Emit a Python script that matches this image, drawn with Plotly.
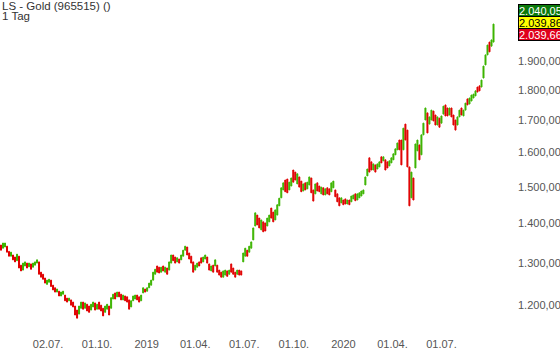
import plotly.graph_objects as go
import pandas as pd

opens = [
    1344,1336,1339,1341,1328,1316,1319,1314,1305,1316, 1294,1282,1292,1299,1290,1297,1289,1294,1299,1302,
    1277,1272,1263,1248,1253,1258,1246,1240,1230,1232, 1221,1225,1223,1216,1210,1212,1207,1198,1189,1180,
    1193,1207,1193,1202,1198,1189,1196,1205,1191,1207,
    1200,1193,1184,1191,1198,1193,1214,1228,1219,1230, 1225,1212,1221,1219,1212,1196,1210,1214,1223,1219,
    1210,1228,1237,1232,1240,1246,1258,1272,1292,1289, 1277,1292,1277,1287,1282,1299,1319,1314,1302,1309,
    1307,1316,1331,1339,1324,1316,1302,1282,1289,1302,
    1312,1302,1309,1314,1297,1280,1294,1292,1294,1282, 1277,1265,1270,1280,1272,1297,1287,1277,1272,1282,
    1280,1302,1316,1331,1326,1336,1357,1393,1422,1414, 1383,1404,1401,1393,1404,1441,1430,1409,1422,1447,
    1469,1491,1519,1522,1491,1502,1548,1542,1508,1528,
    1516,1488,1511,1494,1505,1525,1491,1480,1511,1502, 1480,1497,1477,1497,1494,1486,1497,1491,1480,1469,
    1455,1463,1466,1452,1463,1458,1466,1480,1463,1469, 1474,1480,1505,1531,1584,1572,1548,1563,1551,1557,
    1587,1575,1578,1572,1560,1569,1578,1593,1608,1638,
    1638,1608,1688,1669,1557,1469,1525,1554,1605,1623, 1593,1654,1701,1724,1688,1701,1730,1717,1685,1707,
    1691,1720,1750,1740,1717,1740,1717,1701,1685,1711, 1740,1714,1733,1770,1753,1763,1773,1780,1810,1814,
    1810,1841,1887,1923,1970,1955,1970,
]
closes = [
    1331,1349,1349,1326,1316,1326,1307,1302,1321,1287, 1280,1299,1302,1287,1299,1284,1299,1302,1307,1272,
    1265,1260,1251,1258,1260,1243,1235,1230,1237,1221, 1230,1232,1210,1207,1216,1200,1196,1178,1171,1198,
    1207,1191,1205,1187,1184,1202,1207,1189,1202,1191,
    1187,1176,1198,1202,1178,1217,1225,1214,1230,1219, 1212,1223,1210,1207,1191,1210,1221,1223,1212,1207,
    1223,1240,1230,1240,1251,1258,1277,1284,1277,1275, 1289,1280,1289,1272,1302,1319,1305,1299,1312,1299,
    1319,1331,1341,1319,1309,1299,1277,1294,1299,1292,
    1299,1314,1319,1299,1282,1292,1277,1307,1277,1270, 1265,1280,1282,1267,1282,1277,1272,1265,1282,1270,
    1270,1324,1336,1316,1341,1352,1388,1428,1396,1388, 1409,1378,1380,1414,1422,1414,1404,1436,1450,1468,
    1497,1511,1486,1483,1513,1525,1513,1519,1537,1499,
    1486,1508,1491,1513,1528,1483,1460,1508,1488,1486, 1499,1477,1494,1480,1477,1511,1516,1472,1458,1447,
    1469,1450,1452,1463,1450,1474,1477,1461,1480,1483, 1488,1491,1528,1551,1542,1548,1566,1542,1566,1572,
    1569,1587,1548,1554,1575,1584,1596,1611,1629,1608,
    1563,1675,1638,1557,1447,1542,1463,1626,1638,1578, 1654,1691,1740,1660,1711,1733,1698,1685,1711,1678,
    1714,1746,1714,1714,1740,1711,1685,1669,1711,1733, 1717,1733,1756,1750,1773,1783,1786,1797,1793,1797,
    1834,1883,1923,1959,1934,1978,2038,
]
highs = [max(o, c) for o, c in zip(opens, closes)]
lows = [min(o, c) for o, c in zip(opens, closes)]

FIRST_DATE = "2018-04-05 16:40"
LAST_DATE = "2020-10-05 12:48"
dates = pd.date_range(FIRST_DATE, LAST_DATE, periods=len(closes))

x_tick_dates = ["2018-07-02", "2018-10-01", "2019-01-01", "2019-04-01", "2019-07-01",
                "2019-10-01", "2020-01-01", "2020-04-01", "2020-07-01"]
x_tick_text = ["02.07.", "01.10.", "2019", "01.04.", "01.07.", "01.10.", "2020", "01.04.", "01.07."]
y_tick_vals = [1200, 1300, 1400, 1500, 1600, 1700, 1800, 1900, 2000, 2100]

quote_labels = ["2.040,05", "2.039,86", "2.039,66"]

GREEN = "#3cb400"
RED = "#e00000"
FONT = "Liberation Sans, Arial, sans-serif"

fig = go.Figure(go.Candlestick(
    x=dates, open=opens, high=highs, low=lows, close=closes,
    increasing=dict(line=dict(color=GREEN, width=1), fillcolor=GREEN),
    decreasing=dict(line=dict(color=RED, width=1), fillcolor=RED),
    whiskerwidth=0, showlegend=False, hoverinfo="skip",
))

H_PLOT = 336
fig.update_layout(
    width=560, height=363,
    margin=dict(l=0, r=43, t=0, b=363 - H_PLOT),
    paper_bgcolor="white", plot_bgcolor="white",
    font=dict(family=FONT, size=11, color="#555555"),
    separators=",.",
    showlegend=False,
    xaxis=dict(
        type="date", range=["2018-04-03 20:00", "2020-11-18 03:00"],
        tickvals=x_tick_dates, ticktext=x_tick_text,
        showgrid=False, zeroline=False, showline=False, ticks="",
        rangeslider=dict(visible=False), fixedrange=True,
    ),
    yaxis=dict(
        type="log", side="right", range=[3.05396, 3.32890],
        tickvals=y_tick_vals, tickformat=",.2f",
        showgrid=False, zeroline=False, showline=False, ticks="",
        automargin=False, fixedrange=True,
    ),
)

fig.add_annotation(text="LS - Gold (965515) ()", xref="paper", yref="paper", x=0, y=1,
                   xanchor="left", yanchor="top", showarrow=False, xshift=0, yshift=2,
                   font=dict(family=FONT, size=11.5, color="#333333"))
fig.add_annotation(text="1 Tag", xref="paper", yref="paper", x=0, y=1,
                   xanchor="left", yanchor="top", showarrow=False, xshift=0, yshift=-8,
                   font=dict(family=FONT, size=11.5, color="#333333"))

box_styles = [("#0b7a0b", "white"), ("#ffff00", "black"), ("#e0001b", "white")]
box_centers = [11, 23, 35]
for label, (bg, fg), yc in zip(quote_labels, box_styles, box_centers):
    fig.add_annotation(text=label, xref="paper", yref="paper", x=1, y=1 - yc / H_PLOT,
                       xanchor="left", yanchor="middle", showarrow=False, xshift=1,
                       bgcolor=bg, bordercolor="black", borderwidth=1, borderpad=0,
                       height=11, align="left", valign="middle",
                       font=dict(family=FONT, size=11, color=fg))

fig.write_html("out.html", config={"displayModeBar": False},
               post_script="document.body.style.margin='0';")
